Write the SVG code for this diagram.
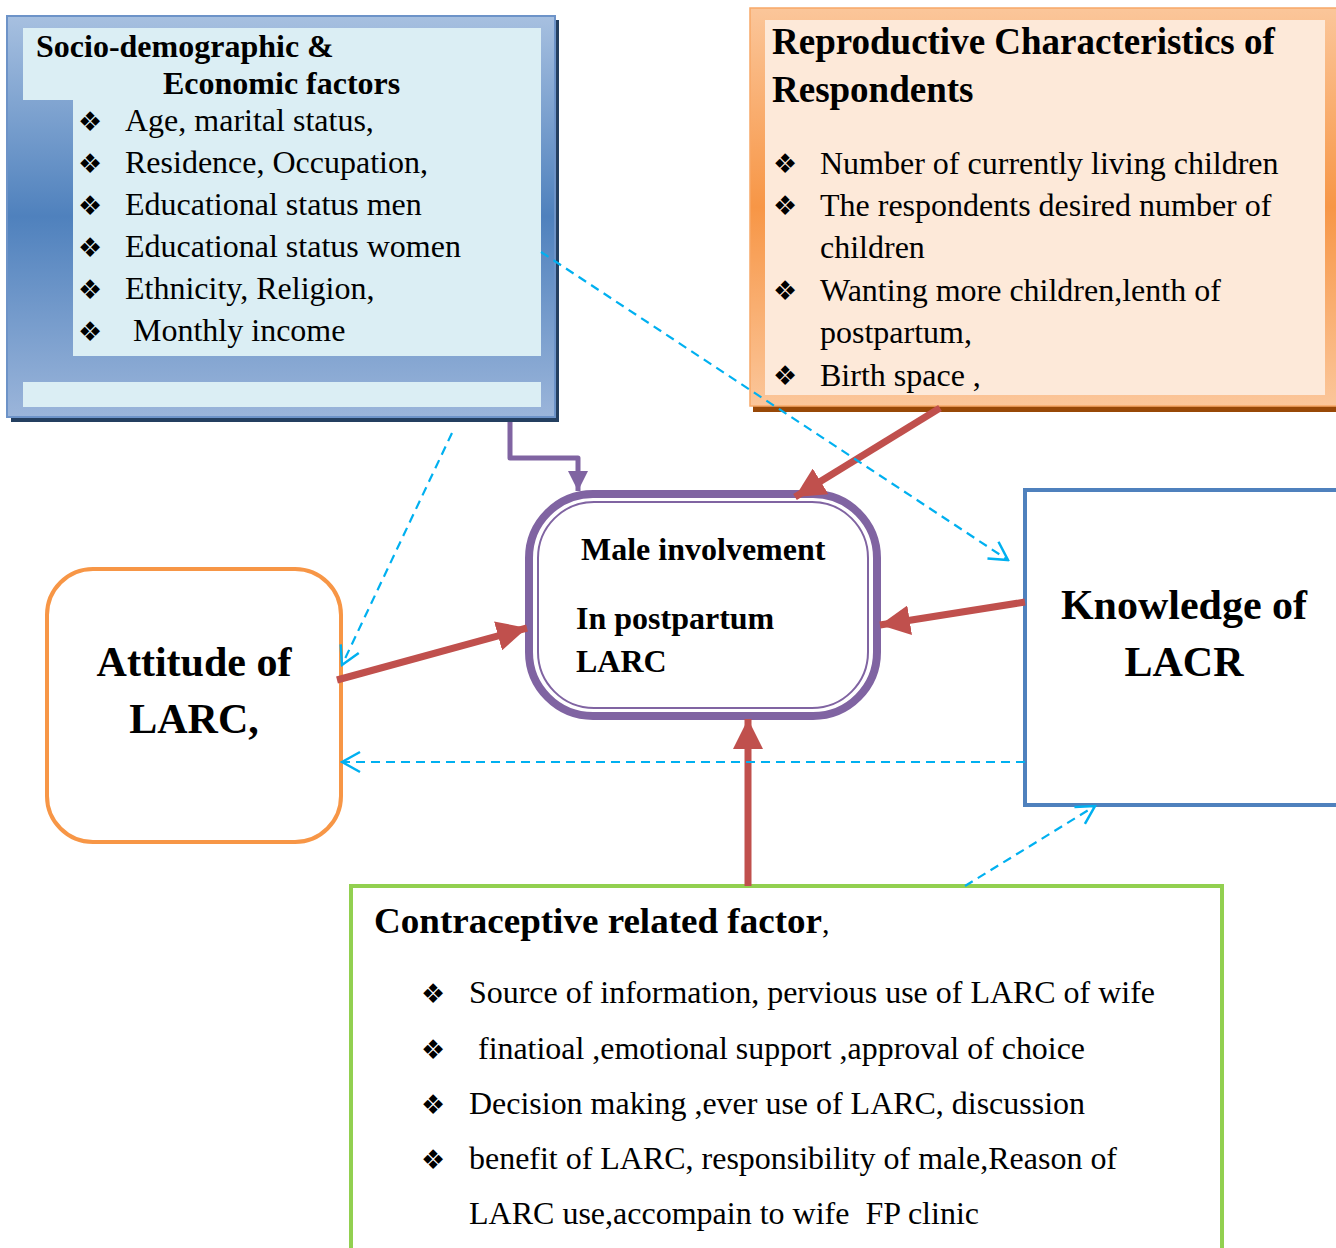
<svg xmlns="http://www.w3.org/2000/svg" width="1336" height="1248" viewBox="0 0 1336 1248">
<defs>
<linearGradient id="gBlue" x1="0" y1="0" x2="0" y2="1">
<stop offset="0" stop-color="#a7c0e0"/>
<stop offset="0.5" stop-color="#4f81bd"/>
<stop offset="1" stop-color="#9bb5da"/>
</linearGradient>
<linearGradient id="gOrange" x1="0" y1="0" x2="0" y2="1">
<stop offset="0" stop-color="#fbc69a"/>
<stop offset="0.5" stop-color="#f79646"/>
<stop offset="1" stop-color="#fbc69a"/>
</linearGradient>
<marker id="aRed" markerUnits="userSpaceOnUse" markerWidth="30" markerHeight="30" viewBox="0 0 24 24" refX="24" refY="12" orient="auto">
<path d="M0,0 L24,12 L0,24 Z" fill="#c0504d"/>
</marker>
<marker id="aPur" markerUnits="userSpaceOnUse" markerWidth="20" markerHeight="20" viewBox="0 0 20 20" refX="20" refY="10" orient="auto">
<path d="M0,0 L20,10 L0,20 Z" fill="#8064a2"/>
</marker>
<marker id="aBlue" markerUnits="userSpaceOnUse" markerWidth="24" markerHeight="24" viewBox="0 0 24 24" refX="22" refY="12" orient="auto">
<path d="M4,2 L22,12 L4,22" fill="none" stroke="#00b0f0" stroke-width="2.5"/>
</marker>
</defs>
<style>
text{font-family:"Liberation Serif","Times New Roman",serif;fill:#000}
.b{font-weight:bold}
.li{font-size:32px}
.bu{font-family:"DejaVu Sans",sans-serif;font-size:27px}
.red{stroke:#c0504d;stroke-width:7;fill:none;marker-end:url(#aRed)}
.dash{stroke:#00b0f0;stroke-width:2.2;stroke-dasharray:9 6;fill:none;marker-end:url(#aBlue)}
.big{font-size:42px;font-weight:bold}
</style>

<g id="socio">
<rect x="11" y="20" width="548" height="402" fill="#243f60"/>
<rect x="7" y="16" width="548" height="401" fill="url(#gBlue)" stroke="#6d93c8" stroke-width="2"/>
<path d="M23,28 H541 V356 H73 V100 H23 Z" fill="#dbeef4"/>
<rect x="23" y="382" width="518" height="25" fill="#dbeef4"/>
<text class="b" x="36" y="57" font-size="32">Socio-demographic &amp;</text>
<text class="b" x="163" y="94" font-size="32">Economic factors</text>
<text class="bu" x="78" y="131">❖</text><text class="li" x="125" y="131">Age, marital status,</text>
<text class="bu" x="78" y="173">❖</text><text class="li" x="125" y="173">Residence, Occupation,</text>
<text class="bu" x="78" y="215">❖</text><text class="li" x="125" y="215">Educational status men</text>
<text class="bu" x="78" y="257">❖</text><text class="li" x="125" y="257">Educational status women</text>
<text class="bu" x="78" y="299">❖</text><text class="li" x="125" y="299">Ethnicity, Religion,</text>
<text class="bu" x="78" y="341">❖</text><text class="li" x="133" y="341">Monthly income</text>
</g>

<g id="repro">
<rect x="753" y="12" width="600" height="400" fill="#984807"/>
<rect x="750" y="8" width="600" height="398" fill="url(#gOrange)" stroke="#f7a867" stroke-width="1.5"/>
<rect x="765" y="20" width="560" height="375" fill="#fde9d9"/>
<text class="b" x="772" y="54" font-size="37">Reproductive Characteristics of</text>
<text class="b" x="772" y="102" font-size="37">Respondents</text>
<text class="bu" x="773" y="173">❖</text><text class="li" x="820" y="174">Number of currently living children</text>
<text class="bu" x="773" y="215">❖</text><text class="li" x="820" y="216">The respondents desired number of</text>
<text class="li" x="820" y="258">children</text>
<text class="bu" x="773" y="300">❖</text><text class="li" x="820" y="301">Wanting more children,lenth of</text>
<text class="li" x="820" y="343">postpartum,</text>
<text class="bu" x="773" y="385">❖</text><text class="li" x="820" y="386">Birth space ,</text>
</g>

<g id="male">
<rect x="529" y="494" width="348" height="222" rx="64" fill="#fff" stroke="#8064a2" stroke-width="8"/>
<rect x="538" y="502" width="330" height="206" rx="56" fill="none" stroke="#8064a2" stroke-width="2"/>
<text class="b" x="581" y="560" font-size="32">Male involvement</text>
<text class="b" x="576" y="629" font-size="32">In postpartum</text>
<text class="b" x="576" y="672" font-size="32">LARC</text>
</g>

<g id="attitude">
<rect x="47" y="569" width="294" height="273" rx="46" fill="#fff" stroke="#f79646" stroke-width="4"/>
<text class="big" x="194" y="676" text-anchor="middle">Attitude of</text>
<text class="big" x="194" y="733" text-anchor="middle">LARC,</text>
</g>

<g id="knowledge">
<rect x="1025" y="490" width="330" height="315" fill="#fff" stroke="#4f81bd" stroke-width="4"/>
<text class="big" x="1184" y="619" text-anchor="middle">Knowledge of</text>
<text class="big" x="1184" y="676" text-anchor="middle">LACR</text>
</g>

<g id="contra">
<rect x="351" y="886" width="871" height="380" fill="#fff" stroke="#92d050" stroke-width="4"/>
<text class="b" x="374" y="933" font-size="35" textLength="448" lengthAdjust="spacingAndGlyphs">Contraceptive related factor</text>
<text x="822" y="933" font-size="30">,</text>
<text class="bu" x="421" y="1003">❖</text><text class="li" x="469" y="1003" textLength="686" lengthAdjust="spacingAndGlyphs">Source of information, pervious use of LARC of wife</text>
<text class="bu" x="421" y="1059">❖</text><text class="li" x="478" y="1059" textLength="607" lengthAdjust="spacingAndGlyphs">finatioal ,emotional support ,approval of choice</text>
<text class="bu" x="421" y="1114">❖</text><text class="li" x="469" y="1114" textLength="616" lengthAdjust="spacingAndGlyphs">Decision making ,ever use of LARC, discussion</text>
<text class="bu" x="421" y="1169">❖</text><text class="li" x="469" y="1169" textLength="648" lengthAdjust="spacingAndGlyphs">benefit of LARC, responsibility of male,Reason of</text>
<text class="li" x="469" y="1224" textLength="510" lengthAdjust="spacingAndGlyphs">LARC use,accompain to wife &#160;FP clinic</text>
</g>

<g id="connectors">
<path d="M510,422 V458 H578 V491" fill="none" stroke="#8064a2" stroke-width="5" stroke-linejoin="round" marker-end="url(#aPur)"/>
<line class="red" x1="940" y1="408" x2="795" y2="497"/>
<line class="red" x1="337" y1="680" x2="527" y2="628"/>
<line class="red" x1="1025" y1="602" x2="880" y2="625"/>
<line class="red" x1="748" y1="886" x2="748" y2="719"/>
<line class="dash" x1="541" y1="252" x2="1008" y2="560"/>
<line class="dash" x1="452" y1="433" x2="342" y2="665"/>
<line class="dash" x1="1025" y1="762" x2="342" y2="762"/>
<line class="dash" x1="965" y1="886" x2="1095" y2="806"/>
</g>
</svg>
